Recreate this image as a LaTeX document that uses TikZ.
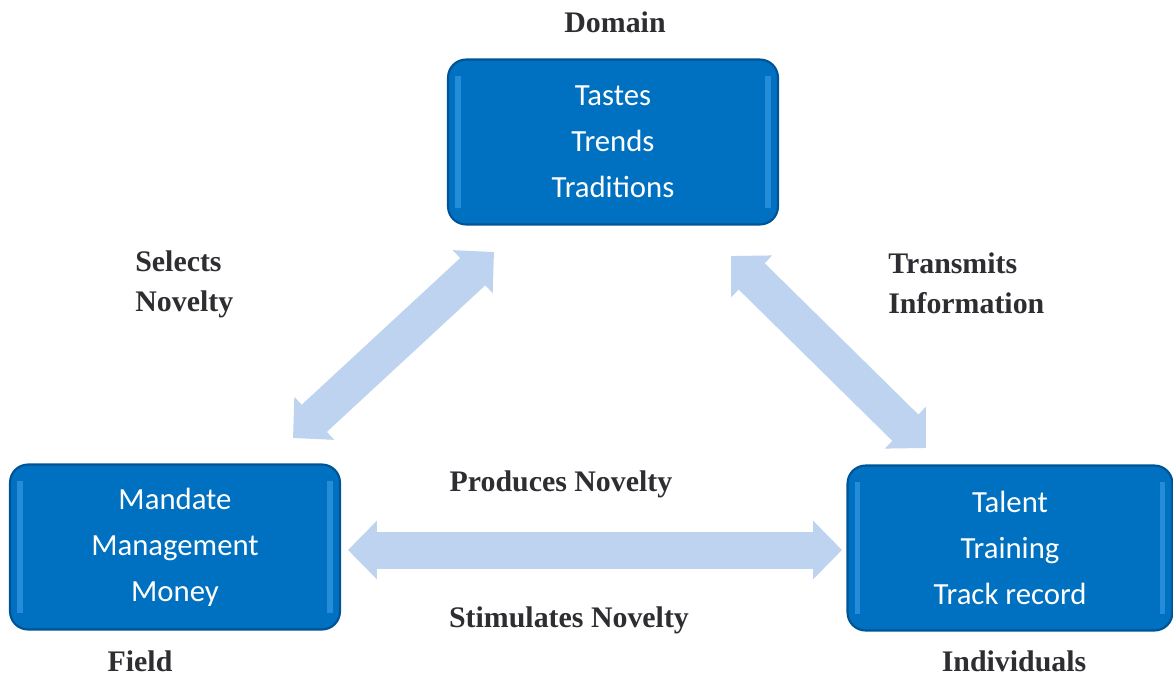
\documentclass[tikz,border=0pt]{standalone}
\usepackage{fontspec}
\setmainfont{Liberation Serif}
\newfontfamily\boxfont{Carlito}
\usetikzlibrary{arrows.meta}

\definecolor{boxblue}{RGB}{0,112,192}
\definecolor{boxedge}{RGB}{0,84,150}
\definecolor{boxlight}{RGB}{60,160,235}
\definecolor{arrowblue}{RGB}{189,211,239}
\definecolor{labelgray}{RGB}{45,45,50}

\begin{document}
\begin{tikzpicture}[x=0.02cm,y=-0.02cm,
        bigarrow/.style={draw=arrowblue,line width=0.74cm,
            {Triangle[length=0.58cm,width=1.14cm]}-{Triangle[length=0.58cm,width=1.14cm]}},
        label/.style={font=\fontsize{17}{22.8}\selectfont\bfseries,text=labelgray,inner sep=0pt}]
    \tikzstyle{every box}=[draw=boxedge,line width=1.2pt,fill=boxblue,rounded corners=0.36cm,
        minimum width=6.6cm,minimum height=3.3cm,text=white,align=center,
        font=\boxfont\fontsize{17.5}{26.2}\selectfont]
    \useasboundingbox (0,0) rectangle (1173,677);

    % boxes
    \node[every box] (domain) at (613,142) {Tastes\\Trends\\Traditions};
    \node[every box] (field)  at (175,547) {Mandate\\Management\\Money};
    \node[every box,minimum width=6.5cm] (indiv) at (1010,548) {Talent\\Training\\Track record};

    % bevel highlights
    \foreach \b in {domain,field,indiv}
        \draw[boxlight,line width=3pt,opacity=0.6]
            ([xshift=0.22cm,yshift=-0.36cm]\b.north west) -- ([xshift=0.22cm,yshift=0.36cm]\b.south west)
            ([xshift=-0.22cm,yshift=-0.36cm]\b.north east) -- ([xshift=-0.22cm,yshift=0.36cm]\b.south east);

    % arrow ends
    \coordinate (fieldup)   at (293,438);
    \coordinate (domainlo)  at (494,252);
    \coordinate (domainro)  at (731,256);
    \coordinate (indivup)   at (926,448);
    \coordinate (fieldri)   at (348,550);
    \coordinate (indivle)   at (842,550);

    \draw[bigarrow] (fieldup) -- (domainlo);
    \draw[bigarrow] (domainro) -- (indivup);
    \draw[bigarrow] (fieldri) -- (indivle);

    % labels
    \node[label] (ldomain) at (615,22) {Domain};
    \node[label,anchor=west,align=left] (lselect) at (135,284) {Selects\\Novelty};
    \node[label,anchor=west,align=left] (ltrans) at (888,283) {Transmits\\Information};
    \node[label] (lprod) at (561,484) {Produces Novelty};
    \node[label] (lstim) at (569,620) {Stimulates Novelty};
    \node[label] (lfield) at (140,661) {Field};
    \node[label] (lindiv) at (1014,661) {Individuals};
\end{tikzpicture}
\end{document}
